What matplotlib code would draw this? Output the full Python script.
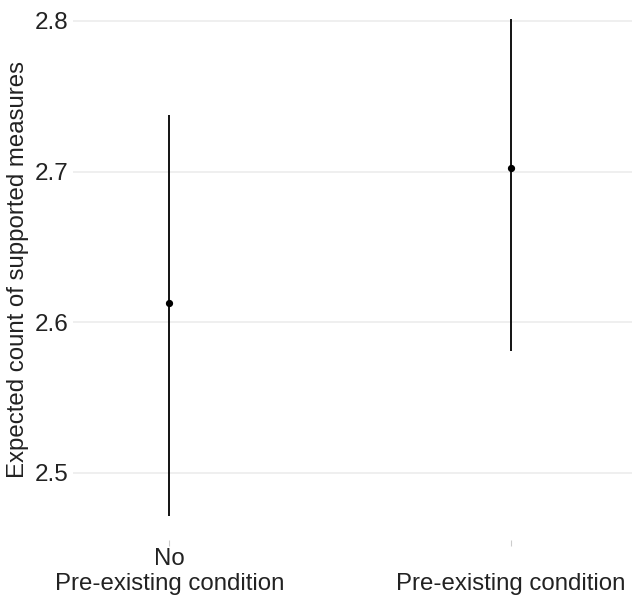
import matplotlib
matplotlib.use("Agg")
import matplotlib.pyplot as plt

# ---------------------------------------------------------------------------
# Data
# ---------------------------------------------------------------------------
groups   = ["No\nPre-existing condition", "\nPre-existing condition"]
estimate = [2.6127, 2.7024]
lower    = [2.4713, 2.5809]
upper    = [2.7376, 2.8013]
y_ticks  = [2.5, 2.6, 2.7, 2.8]

plt.rcParams["font.family"] = ["Liberation Sans", "DejaVu Sans"]

W, H = 633, 603
fig = plt.figure(figsize=(W / 100, H / 100), dpi=100)
# panel in pixels: left 73, right 632, top 0, bottom 540
ax = fig.add_axes([73 / W, (H - 540) / H, (632 - 73) / W, 540 / H])

x = list(range(1, len(groups) + 1))
for xi, est, lo, hi in zip(x, estimate, lower, upper):
    ax.plot([xi, xi], [lo, hi], color="black", linewidth=1.3, zorder=3,
            solid_capstyle="butt")
ax.plot(x, estimate, "o", color="black", markersize=4.2, zorder=4)

ax.set_xlim(0.718, 2.355)
ax.set_ylim(2.4553, 2.8139)

ax.set_yticks(y_ticks)
ax.set_yticklabels([f"{v:.1f}" for v in y_ticks])
ax.set_xticks(x)
ax.set_xticklabels(groups)

ax.grid(axis="y", color="#ebebeb", linewidth=1.1, zorder=0)
ax.grid(axis="x", visible=False)
for s in ax.spines.values():
    s.set_visible(False)

ax.tick_params(axis="y", length=0, pad=3.5, labelsize=17.5, labelcolor="#222222")
ax.tick_params(axis="x", length=4, width=0.8, color="#cccccc", pad=1.5,
               labelsize=17.3, labelcolor="#222222")
for lab in ax.get_xticklabels():
    lab.set_linespacing(1.2)

ax.set_ylabel("Expected count of supported measures", fontsize=17.3,
              color="#222222", labelpad=4)

fig.savefig("out.png", dpi=100)
